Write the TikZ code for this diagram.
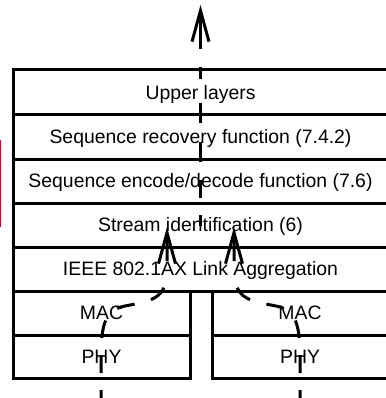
\documentclass[tikz,border=0pt]{standalone}
\usepackage{fontspec}
\setmainfont{Liberation Sans}
\usetikzlibrary{arrows.meta}
\definecolor{barred}{HTML}{C8102E}
\begin{document}
\begin{tikzpicture}[x=1pt,y=-1pt,
  layer/.style={draw, line width=3pt, rectangle, inner sep=0pt,
    font=\fontsize{19.4pt}{23pt}\selectfont, text height=13.9pt, text depth=0pt},
  cutright/.style={execute at begin node={\kern-6pt}},
  wide/.style={layer, cutright, minimum width=381pt, minimum height=44pt},
  half/.style={layer, minimum width=177pt, minimum height=44pt},
  halfR/.style={layer, cutright, minimum width=182pt, minimum height=44pt},
  flow/.style={line width=3pt},
  tip/.style={-{Straight Barb[length=31pt,width=17pt]}}
]
\useasboundingbox (0,0) rectangle (385,398);
% red margin bar
\fill[barred] (0,140) rectangle (1.4,227);
% layers
\node[wide, minimum height=45pt] (ul) at (203.5,92.5) {Upper layers};
\node[wide] (sr) at (203.5,137) {Sequence recovery function (7.4.2)};
\node[wide] (se) at (203.5,181) {Sequence encode/decode function (7.6)};
\node[wide] (si) at (203.5,225) {Stream identification (6)};
\node[wide] (la) at (203.5,269) {IEEE 802.1AX Link Aggregation};
\node[half] (macL) at (101.5,313) {MAC};
\node[half, minimum height=43pt] (phyL) at (101.5,356.5) {PHY};
\node[halfR] (macR) at (303,313) {MAC};
\node[halfR, minimum height=43pt] (phyR) at (303,356.5) {PHY};
% flow coordinates
\coordinate (s0) at (200.5,226);
\coordinate (top) at (200.5,5);
\coordinate (l0) at (101,400);
\coordinate (lt) at (167,227);
\coordinate (r0) at (300,400);
\coordinate (rt) at (234,227);
% flows
\draw[flow, tip, dash pattern=on 11pt off 17pt on 18pt off 18pt on 20pt off 19pt on 20pt off 24pt on 12pt off 18pt on 100pt off 1pt]
  (s0) -- (top);
\draw[flow, tip, dash pattern=on 10pt off 17pt on 18pt off 17pt on 18pt off 17pt on 18pt off 17pt on 18pt off 27pt on 100pt off 1pt]
  (l0) -- (101,350) .. controls (102,325) and (105,310) .. (125,306)
  .. controls (150,301) and (167,300) .. (167,270) -- (lt);
\draw[flow, tip, dash pattern=on 10pt off 17pt on 18pt off 17pt on 18pt off 17pt on 18pt off 17pt on 18pt off 27pt on 100pt off 1pt]
  (r0) -- (300,350) .. controls (299,325) and (296,310) .. (276,306)
  .. controls (251,301) and (234,300) .. (234,270) -- (rt);
\end{tikzpicture}
\end{document}
